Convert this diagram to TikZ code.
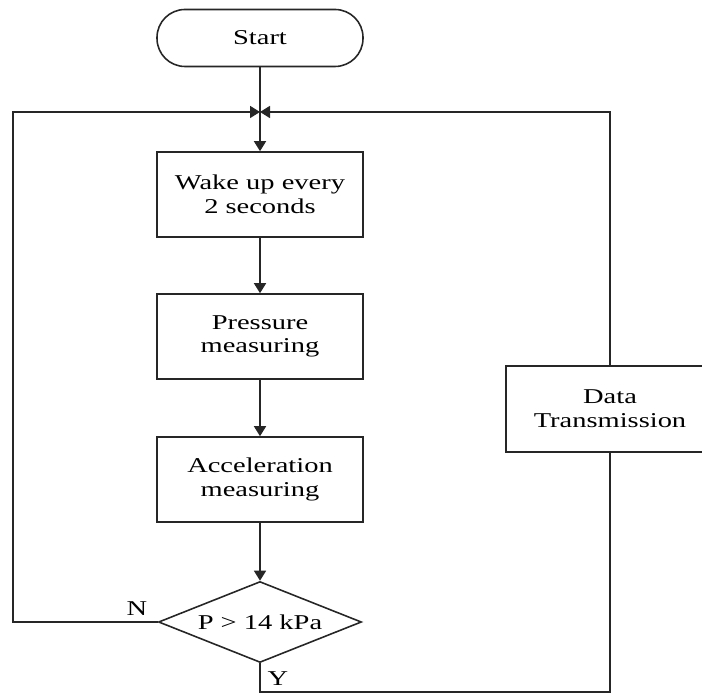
\documentclass[tikz,border=0pt]{standalone}
\usepackage{fontspec}
\setmainfont[FakeStretch=1.35]{Liberation Serif}
\usepackage{tikz}
\usetikzlibrary{shapes.geometric,arrows.meta}

\begin{document}
\begin{tikzpicture}[
        font=\fontsize{12}{13.5}\selectfont,
        line width=0.9pt,
        color=black!85,
        every node/.style={text=black},
        >={Triangle[length=2mm,width=2.4mm]},
        terminal/.style={draw,rounded corners=0.56cm,minimum width=4.12cm,minimum height=1.14cm},
        procbox/.style={draw,align=center,minimum width=4.12cm,minimum height=1.70cm},
        decision/.style={draw,diamond,aspect=2.5,inner sep=1pt,minimum width=4.06cm,minimum height=1.62cm}
    ]
                \useasboundingbox (0,0) rectangle (14.04,13.86);
                \clip (0,0) rectangle (14.04,13.86);
                % blocks of the loop
                \node [terminal] (start) at (5.2,13.10) {Start};
                \node [procbox] (wake) at (5.2,9.97) {Wake up every\\2 seconds};
                \node [procbox] (press) at (5.2,7.13) {Pressure\\measuring};
                \node [procbox] (accel) at (5.2,4.27) {Acceleration\\measuring};
                \node [decision] (check) at (5.2,1.42) {P > 14 kPa};
                \node [procbox,minimum width=4.16cm,minimum height=1.72cm] (send) at (12.2,5.68) {Data\\Transmission};
                % corners of the return lines
                \coordinate (join) at (5.2,11.62);
                \coordinate (ltop) at (0.26,11.62);
                \coordinate (rbot) at (12.2,0.02);
                % main flow
                \draw [->] (start) -- (wake);
                \draw [->] (wake) -- (press);
                \draw [->] (press) -- (accel);
                \draw [->] (accel) -- (check);
                % no: back to the top
                \draw [->] (check.west) -| (ltop) -- (join);
                \node (no) at (2.74,1.68) {N};
                % yes: send data, then back to the top
                \draw (check.south) |- (rbot) -- (send.south);
                \draw [->] (send.north) |- (join);
                \node (yes) at (5.56,0.28) {Y};
            \end{tikzpicture}
\end{document}
